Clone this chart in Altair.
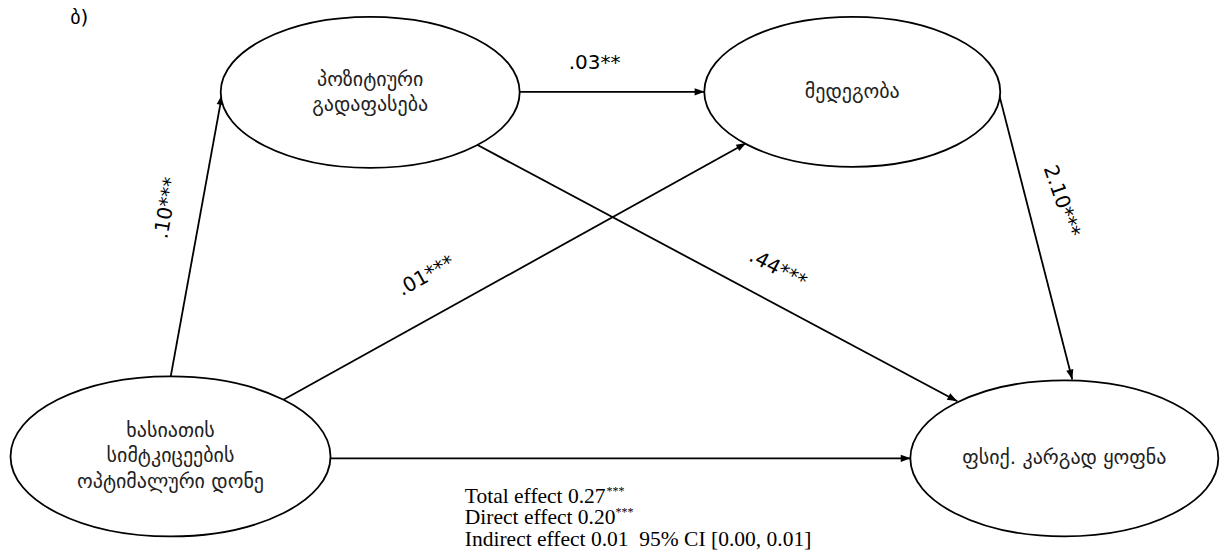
import math
import altair as alt
import pandas as pd

# ---------------- data ----------------
node_ids = ["reappraisal", "resilience", "temperament", "wellbeing"]
node_labels = [
    ["პოზიტიური", "გადაფასება"],
    ["მედეგობა"],
    ["ხასიათის", "სიმტკიცეების", "ოპტიმალური დონე"],
    ["ფსიქ. კარგად ყოფნა"],
]
edge_from = ["temperament", "temperament", "reappraisal", "reappraisal", "resilience", "temperament"]
edge_to = ["reappraisal", "resilience", "wellbeing", "resilience", "wellbeing", "wellbeing"]
edge_coef = [".10***", ".01***", ".44***", ".03**", "2.10***", ""]
panel_tag = "ბ)"
effect_lines = ["Total effect 0.27", "Direct effect 0.20",
                "Indirect effect 0.01\u00a0 95% CI [0.00, 0.01]"]
effect_marks = ["***", "***", ""]

# ---------------- layout (page pixels) ----------------
node_center = {"reappraisal": (373.5, 87.5), "resilience": (860, 87),
               "temperament": (172, 457), "wellbeing": (1074, 459)}
node_radius = {"reappraisal": (149.5, 75.5), "resilience": (148, 75),
               "temperament": (160, 80), "wellbeing": (154, 78)}
edge_start = [(172, 377), (285, 400), (480, 140), (523, 87), (1007, 85), (332, 459)]
edge_end = [(224, 90), (753, 139), (966, 401), (711, 87), (1082, 379), (919, 459)]
label_pos = [(168, 205), (430, 274), (785, 267), (600, 58), (1071, 198), (0, 0)]
label_angle = [280, 331, 28, 0, 71, 0]
node_line_gap = 26
effect_x = 469
effect_y = [504, 526, 548]
effect_mark_x = [612, 621, 0]

W, H = 1213, 543
xs = alt.Scale(domain=[8, 8 + W], nice=False, zero=False)
ys = alt.Scale(domain=[8, 8 + H], nice=False, zero=False, reverse=True)
X = lambda f: alt.X(f, type="quantitative", scale=xs, axis=None)
Y = lambda f: alt.Y(f, type="quantitative", scale=ys, axis=None)

# edges
edges = pd.DataFrame({
    "x": [s[0] for s in edge_start], "y": [s[1] for s in edge_start],
    "x2": [e[0] for e in edge_end], "y2": [e[1] for e in edge_end],
    "coef": edge_coef,
})
rules = alt.Chart(edges).mark_rule(color="black", strokeWidth=1.8).encode(
    x=X("x"), y=Y("y"), x2="x2", y2="y2")

# arrow heads
heads = edges.copy()
heads["ang"] = [(math.degrees(math.atan2(e[0] - s[0], -(e[1] - s[1]))) % 360)
                for s, e in zip(edge_start, edge_end)]
arrow_path = "M0,0 L-0.36,1 L0.36,1 Z"
arrows = alt.Chart(heads).mark_point(
    shape=arrow_path, filled=True, color="black", opacity=1, size=400, strokeWidth=0
).encode(x=X("x2"), y=Y("y2"), angle=alt.Angle("ang:Q", scale=None))

# ellipses
ell = pd.DataFrame({
    "id": node_ids,
    "x": [node_center[n][0] for n in node_ids],
    "y": [node_center[n][1] for n in node_ids],
    "shape": [f"M-1,0 A1,{node_radius[n][1]/node_radius[n][0]:.4f} 0 1,1 1,0 "
              f"A1,{node_radius[n][1]/node_radius[n][0]:.4f} 0 1,1 -1,0 Z" for n in node_ids],
    "size": [(2 * node_radius[n][0]) ** 2 for n in node_ids],
})
ellipses = alt.Chart(ell).mark_point(
    filled=False, fill="white", fillOpacity=1, stroke="black", strokeWidth=1.8, opacity=1
).encode(x=X("x"), y=Y("y"),
         shape=alt.Shape("shape:N", scale=None),
         size=alt.Size("size:Q", scale=None))

# node labels
rows = []
for n, lines in zip(node_ids, node_labels):
    cx, cy = node_center[n]
    k = len(lines)
    for i, t in enumerate(lines):
        rows.append({"x": cx, "y": cy + (i - (k - 1) / 2) * node_line_gap, "t": t})
node_text = alt.Chart(pd.DataFrame(rows)).mark_text(
    font="DejaVu Sans", fontSize=20, color="#222", align="center", baseline="middle"
).encode(x=X("x"), y=Y("y"), text="t:N")

# coefficient labels
lab = pd.DataFrame({"x": [p[0] for p in label_pos], "y": [p[1] for p in label_pos],
                    "t": edge_coef, "a": label_angle})
lab = lab[lab["t"] != ""]
coef_text = alt.Chart(lab).mark_text(
    font="DejaVu Sans", fontSize=20, color="black", align="center", baseline="middle"
).encode(x=X("x"), y=Y("y"), text="t:N", angle=alt.Angle("a:Q", scale=None))

# effects text
eff = pd.DataFrame({"x": [effect_x] * 3, "y": effect_y, "t": effect_lines})
eff_text = alt.Chart(eff).mark_text(
    font="Liberation Serif", fontSize=21.5, color="black", align="left", baseline="alphabetic"
).encode(x=X("x"), y=Y("y"), text="t:N")
em = pd.DataFrame({"x": effect_mark_x, "y": [y - 8 for y in effect_y], "t": effect_marks})
em = em[em["t"] != ""]
eff_marks = alt.Chart(em).mark_text(
    font="Liberation Serif", fontSize=12, color="black", align="left", baseline="alphabetic"
).encode(x=X("x"), y=Y("y"), text="t:N")

tag = alt.Chart(pd.DataFrame({"x": [80], "y": [12], "t": [panel_tag]})).mark_text(
    font="DejaVu Sans", fontSize=20, color="black", align="center", baseline="middle"
).encode(x=X("x"), y=Y("y"), text="t:N")

chart = alt.layer(rules, arrows, ellipses, node_text, coef_text, eff_text, eff_marks, tag).properties(
    width=W, height=H, padding=0,
    autosize=alt.AutoSizeParams(type="fit", contains="padding"),
).configure_view(stroke=None)

chart.save("out.html", embed_options={"renderer": "svg", "actions": False})
